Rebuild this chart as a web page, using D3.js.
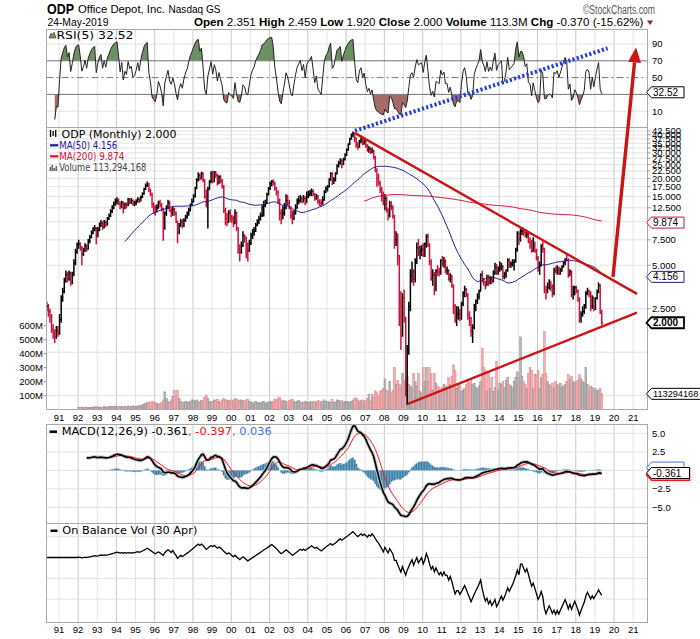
<!DOCTYPE html>
<html>
<head>
<meta charset="utf-8">
<script src="https://cdn.jsdelivr.net/npm/d3@7"></script>
<style>
  body { margin: 0; background: #fff; }
  svg text { font-family: "DejaVu Sans", Verdana, sans-serif; }
</style>
</head>
<body>
<svg width="700" height="639"></svg>
<script>
// --- Data: ODP monthly bars, May 1990 .. May 2019 ---
const firstMonth = new Date(1990, 4, 1);

const closes = [
  2.6, 2.4, 2.2, 1.8, 1.7, 1.6, 1.75, 1.7,                       // 1990 May-Dec
  2.1, 2.9, 3.3, 3.9, 4.3, 4.0, 4.4, 3.8, 4.3, 5.2, 6.2, 6.9,      // 1991
  7.0, 6.6, 6.0, 6.3, 6.8, 6.5, 7.3, 7.8, 8.4, 8.8, 9.0, 8.0,      // 1992
  8.8, 9.5, 9.8, 9.2, 9.9, 9.6, 10.5, 11.0, 11.8, 12.5, 13.2, 13.8, // 1993
  14.0, 13.5, 12.8, 13.6, 12.5, 13.2, 13.0, 14.2, 13.8, 14.0, 13.4, 13.5, // 1994
  13.8, 14.3, 14.0, 14.8, 15.6, 16.8, 17.8, 18.3, 16.5, 15.6, 13.2, 12.5, // 1995
  12.0, 12.5, 13.5, 13.0, 12.2, 9.0, 11.5, 12.5, 13.5, 12.0, 11.5, 12.2,  // 1996
  11.5, 10.0, 8.5, 9.5, 10.0, 9.4, 10.2, 10.8, 11.2, 12.0, 13.0, 13.8,    // 1997
  15.0, 17.0, 19.5, 21.0, 20.0, 21.5, 19.5, 15.0, 13.5, 17.0, 19.0, 21.5, // 1998
  19.0, 22.0, 21.0, 18.5, 20.5, 19.0, 17.5, 12.0, 10.5, 10.0, 11.5, 10.8, // 1999
  10.5, 9.8, 11.5, 9.0, 6.5, 6.2, 6.8, 8.0, 7.7, 6.5, 6.3, 7.1,           // 2000
  8.0, 8.5, 8.8, 9.5, 10.0, 10.4, 11.0, 12.5, 13.0, 13.5, 15.5, 17.0,     // 2001
  18.5, 19.0, 18.5, 17.0, 16.0, 14.0, 11.5, 10.5, 11.5, 12.5, 14.0, 13.5, // 2002
  12.5, 11.0, 10.5, 11.5, 12.5, 13.5, 14.0, 14.5, 13.8, 14.5, 13.5, 15.0, // 2003
  15.5, 15.8, 16.2, 15.5, 14.5, 15.0, 13.8, 13.5, 13.2, 14.2, 16.0, 17.0, // 2004
  17.5, 19.5, 21.5, 19.0, 19.5, 21.5, 24.5, 25.5, 26.5, 25.0, 27.0, 29.0, // 2005
  31.5, 34.5, 37.5, 40.0, 41.0, 38.0, 34.0, 33.0, 36.0, 37.0, 35.0, 36.0, // 2006
  33.5, 31.5, 32.0, 30.5, 31.0, 28.0, 23.0, 20.0, 18.5, 16.5, 15.0, 13.9, // 2007
  14.5, 12.0, 11.0, 12.8, 12.5, 10.9, 7.5, 7.5, 5.8, 2.6, 1.8, 2.98,      // 2008
  2.1, 0.75, 1.3, 2.6, 4.2, 4.5, 4.0, 5.3, 6.6, 6.2, 6.3, 6.45,           // 2009
  5.9, 7.0, 7.9, 6.9, 5.3, 4.0, 4.3, 3.4, 4.6, 4.5, 4.4, 5.4,             // 2010
  5.1, 5.3, 4.6, 4.6, 4.0, 4.2, 3.6, 2.6, 2.1, 2.3, 2.3, 2.15,            // 2011
  2.7, 3.2, 3.4, 3.1, 2.25, 2.15, 1.75, 1.85, 2.55, 2.85, 3.05, 3.28,     // 2012
  4.3, 3.9, 3.8, 3.6, 4.1, 3.8, 4.0, 3.9, 4.4, 4.9, 4.4, 4.7,             // 2013
  4.8, 4.9, 4.2, 4.3, 4.6, 5.4, 5.0, 5.1, 5.2, 5.3, 6.4, 8.3,             // 2014
  7.6, 8.6, 8.6, 8.4, 8.0, 8.2, 7.3, 7.2, 6.3, 6.9, 6.3, 5.6,             // 2015
  4.9, 5.0, 6.8, 6.5, 3.4, 3.3, 3.5, 3.6, 3.5, 3.2, 4.6, 4.5,             // 2016
  4.7, 4.4, 4.6, 4.9, 5.2, 5.5, 5.4, 4.3, 4.5, 3.1, 3.2, 3.5,             // 2017
  3.3, 2.9, 2.15, 2.3, 2.4, 2.55, 3.2, 3.3, 3.2, 2.6, 3.0, 2.58,          // 2018
  2.95, 3.3, 3.63, 2.37, 2.0                                              // 2019 Jan-May
];

const highs = [
  2.8, 2.7, 2.5, 2.3, 1.95, 1.8, 1.9, 1.9,
  2.3, 3.1, 3.5, 4.1, 4.6, 4.5, 4.6, 4.5, 4.5, 5.5, 6.5, 7.2,
  7.5, 7.2, 6.8, 6.6, 7.1, 7.0, 7.6, 8.1, 8.7, 9.2, 9.5, 9.2,
  9.2, 9.9, 10.3, 10.1, 10.3, 10.2, 10.8, 11.4, 12.2, 13.0, 13.8, 14.5,
  14.8, 14.5, 13.8, 14.0, 13.8, 13.6, 13.6, 14.6, 14.6, 14.6, 14.3, 14.0,
  14.3, 14.8, 14.7, 15.2, 16.0, 17.2, 18.4, 19.0, 18.6, 17.0, 15.9, 13.6,
  13.0, 13.2, 14.0, 14.2, 13.5, 12.5, 11.8, 13.0, 14.2, 14.0, 12.5, 12.8,
  12.5, 11.8, 10.2, 9.8, 10.5, 10.4, 10.6, 11.2, 11.8, 12.5, 13.4, 14.5,
  15.5, 17.5, 20.0, 22.0, 21.6, 22.2, 22.0, 19.8, 16.8, 17.5, 19.5, 22.4,
  22.6, 22.5, 22.4, 21.5, 21.0, 21.0, 19.8, 18.0, 12.5, 11.5, 12.0, 12.2,
  11.2, 11.0, 12.2, 11.8, 9.2, 7.0, 7.3, 8.6, 8.2, 7.9, 7.2, 7.5,
  8.4, 8.9, 9.2, 9.8, 10.4, 11.0, 11.6, 13.0, 14.0, 14.2, 15.9, 17.4,
  19.0, 19.5, 19.6, 19.0, 17.4, 16.5, 14.5, 12.2, 12.8, 13.5, 15.5, 15.3,
  14.2, 12.8, 12.0, 12.0, 13.2, 14.5, 15.0, 15.3, 15.0, 15.3, 15.0, 16.2,
  16.4, 16.6, 17.0, 16.8, 15.8, 15.6, 15.4, 14.3, 14.3, 15.0, 16.5, 17.6,
  18.0, 20.0, 22.0, 22.0, 20.4, 22.0, 25.0, 26.5, 27.5, 27.3, 27.8, 29.8,
  32.2, 35.0, 38.2, 40.8, 42.2, 41.5, 38.3, 35.5, 36.8, 38.5, 38.0, 37.0,
  37.0, 34.6, 33.5, 33.0, 32.5, 31.5, 28.5, 23.5, 21.5, 19.2, 17.5, 16.2,
  15.6, 15.0, 12.5, 14.0, 13.9, 13.0, 11.2, 8.6, 8.3, 5.9, 3.3, 3.2,
  3.4, 2.2, 1.4, 2.8, 4.7, 5.3, 4.7, 5.6, 7.2, 7.6, 6.8, 6.9,
  7.1, 7.2, 8.2, 8.3, 7.1, 5.5, 4.7, 4.5, 4.7, 5.0, 4.8, 5.5,
  5.8, 5.7, 5.5, 4.9, 4.7, 4.4, 4.3, 3.7, 2.7, 2.6, 2.6, 2.5,
  2.8, 3.3, 3.6, 3.5, 3.2, 2.4, 2.2, 1.95, 2.7, 2.9, 3.2, 3.4,
  4.4, 4.6, 4.1, 3.9, 4.3, 4.3, 4.2, 4.2, 4.6, 5.2, 5.1, 4.9,
  5.3, 5.2, 5.0, 4.5, 4.7, 5.6, 5.6, 5.3, 5.5, 5.5, 6.6, 8.6,
  8.6, 9.0, 9.2, 9.1, 8.9, 8.8, 8.6, 7.8, 7.5, 7.8, 7.3, 6.5,
  5.8, 5.3, 7.0, 7.3, 6.6, 3.6, 3.8, 4.0, 3.9, 3.7, 4.8, 4.9,
  5.0, 4.9, 4.8, 5.0, 5.3, 5.6, 5.9, 5.6, 4.7, 4.6, 3.6, 3.6,
  3.6, 3.4, 3.0, 2.4, 2.6, 2.7, 3.3, 3.5, 3.4, 3.3, 3.1, 3.0,
  3.0, 3.4, 3.8, 3.7, 2.459
];

const lows = [
  2.4, 2.2, 2.0, 1.7, 1.55, 1.45, 1.55, 1.6,
  1.65, 2.0, 2.8, 3.2, 3.8, 3.8, 3.9, 3.6, 3.7, 4.2, 5.0, 6.0,
  6.5, 6.3, 5.0, 5.8, 6.2, 6.2, 6.4, 7.1, 7.7, 8.2, 8.6, 7.0,
  7.8, 8.6, 9.2, 8.8, 9.0, 9.2, 9.4, 10.3, 10.8, 11.5, 12.2, 12.9,
  13.2, 13.0, 12.2, 12.4, 11.4, 12.2, 12.4, 12.8, 13.2, 13.3, 12.9, 12.8,
  13.0, 13.6, 13.5, 13.8, 14.6, 15.4, 16.6, 17.4, 16.0, 15.0, 12.5, 11.4,
  11.0, 11.6, 12.3, 12.6, 11.8, 7.4, 8.8, 11.0, 12.2, 11.7, 10.8, 11.0,
  11.0, 9.8, 7.1, 8.2, 9.2, 9.0, 9.2, 10.0, 10.5, 11.0, 11.8, 12.8,
  13.6, 14.7, 16.8, 19.0, 19.3, 19.6, 18.8, 14.5, 12.6, 9.0, 16.5, 18.5,
  18.5, 18.8, 20.2, 17.8, 18.2, 18.5, 17.0, 11.5, 9.5, 9.3, 9.8, 10.0,
  9.8, 9.2, 9.6, 8.6, 6.0, 5.3, 6.0, 6.7, 7.2, 5.6, 5.3, 6.2,
  6.9, 7.6, 8.0, 8.5, 9.3, 9.6, 10.2, 10.8, 10.9, 12.6, 13.3, 15.2,
  16.6, 17.6, 17.8, 16.4, 15.2, 13.3, 10.2, 9.6, 10.4, 11.0, 12.2, 12.9,
  12.2, 10.5, 9.6, 10.3, 11.2, 12.3, 13.2, 13.6, 13.4, 13.6, 13.0, 13.6,
  14.6, 15.0, 15.1, 15.0, 14.0, 14.2, 13.3, 12.8, 12.7, 13.1, 14.0, 15.8,
  16.2, 17.3, 19.2, 18.0, 18.3, 19.0, 21.3, 23.8, 24.8, 23.5, 24.6, 26.6,
  28.5, 31.0, 34.0, 37.0, 38.5, 35.5, 32.5, 31.5, 32.5, 35.0, 34.0, 34.2,
  32.5, 30.5, 30.0, 29.5, 29.8, 27.0, 22.0, 17.5, 17.8, 15.8, 13.8, 13.0,
  12.0, 11.6, 10.2, 10.7, 12.0, 10.5, 6.5, 6.8, 5.0, 1.9, 1.3, 1.6,
  2.0, 0.62, 0.54, 1.2, 2.4, 3.8, 3.6, 3.8, 5.1, 5.8, 5.5, 5.8,
  5.7, 5.7, 6.6, 6.7, 5.0, 3.9, 3.6, 3.1, 3.3, 4.2, 4.2, 4.3,
  4.9, 4.8, 4.4, 4.3, 3.9, 3.8, 3.5, 2.3, 2.0, 1.9, 2.1, 2.05,
  2.1, 2.6, 3.0, 3.0, 2.1, 1.9, 1.6, 1.45, 1.8, 2.4, 2.7, 2.9,
  3.3, 3.8, 3.6, 3.4, 3.6, 3.6, 3.7, 3.7, 3.8, 4.3, 4.3, 4.3,
  4.5, 4.6, 4.0, 4.0, 4.1, 4.5, 4.8, 4.8, 4.9, 4.6, 5.2, 6.2,
  6.9, 7.3, 8.1, 8.0, 7.8, 7.7, 7.1, 6.5, 6.1, 6.2, 6.1, 5.4,
  4.5, 4.3, 4.9, 6.1, 3.2, 2.9, 3.2, 3.4, 3.3, 3.0, 3.1, 4.4,
  4.3, 4.3, 4.3, 4.5, 4.8, 5.0, 5.3, 4.1, 4.2, 3.0, 2.9, 3.1,
  3.2, 2.8, 2.0, 2.0, 2.2, 2.3, 2.5, 3.1, 3.0, 2.4, 2.5, 2.4,
  2.45, 2.9, 3.2, 2.3, 1.92
];

// monthly volume in millions (no volume on the chart before 1992)
const volumesM = [
  null, null, null, null, null, null, null, null,
  null, null, null, null, null, null, null, null, null, null, null, null,
  18, 15, 20, 14, 16, 15, 18, 17, 16, 20, 18, 22,            // 1992
  18, 20, 16, 18, 22, 20, 18, 22, 24, 20, 22, 25,            // 1993
  24, 22, 26, 20, 24, 22, 20, 26, 22, 24, 28, 22,            // 1994
  24, 26, 30, 28, 35, 40, 45, 50, 55, 50, 58, 55,            // 1995
  50, 45, 40, 45, 50, 70, 128, 80, 60, 55, 70, 93,           // 1996
  136, 100, 140, 80, 60, 55, 50, 60, 55, 50, 60, 70,         // 1997
  65, 60, 70, 55, 60, 65, 70, 90, 105, 80, 60, 55,           // 1998
  60, 70, 65, 75, 60, 55, 70, 80, 70, 70, 65, 60,            // 1999
  70, 65, 80, 75, 70, 65, 70, 65, 60, 70, 75, 60,            // 2000
  55, 50, 45, 60, 50, 45, 50, 55, 60, 45, 50, 55,            // 2001
  60, 55, 60, 75, 70, 80, 90, 70, 60, 65, 60, 55,            // 2002
  65, 70, 75, 60, 55, 60, 65, 55, 50, 55, 60, 55,            // 2003
  55, 50, 60, 55, 60, 50, 65, 60, 55, 60, 70, 55,            // 2004
  60, 55, 55, 75, 50, 55, 70, 65, 60, 65, 55, 60,            // 2005
  60, 55, 55, 60, 65, 80, 85, 70, 60, 65, 70, 60,            // 2006
  65, 80, 110, 60, 110, 90, 135, 120, 100, 130, 140, 150,    // 2007
  220, 140, 130, 200, 120, 140, 300, 180, 210, 180, 170, 260, // 2008
  210, 200, 240, 180, 170, 150, 260, 200, 170, 260, 130, 120, // 2009
  300, 200, 300, 200, 300, 260, 140, 260, 190, 170, 160, 120, // 2010
  160, 180, 170, 160, 230, 180, 240, 320, 280, 150, 180, 170, // 2011
  130, 140, 150, 180, 200, 190, 210, 180, 190, 160, 150, 170, // 2012
  200, 440, 300, 280, 130, 260, 150, 230, 130, 160, 345, 140, // 2013
  190, 180, 200, 160, 210, 230, 180, 170, 160, 200, 230, 270, // 2014
  230, 520, 240, 200, 180, 150, 260, 300, 280, 150, 250, 250, // 2015
  280, 150, 230, 250, 560, 260, 200, 180, 170, 190, 150, 200, // 2016
  180, 170, 190, 160, 170, 180, 200, 250, 220, 240, 200, 190, // 2017
  200, 210, 250, 220, 200, 190, 300, 180, 150, 170, 160, 140, // 2018
  150, 130, 140, 150, 113.29                                  // 2019
];

// axis ticks
const priceTicks = [2.5, 5, 7.5, 10, 12.5, 15, 17.5, 20, 22.5, 25, 27.5, 30, 32.5, 35, 37.5, 40, 42.5];
const priceGridExtra = [0.625, 1.25];
const volTicksM = [100, 200, 300, 400, 500, 600];
const rsiGrid = [10, 30, 50, 70, 90];
const rsiLabels = [10, 50, 70, 90];        // 30 sits under the value tag
const macdGrid = [-5, -2.5, 0, 2.5, 5];
const macdLabels = [-5, -2.5, 2.5, 5];     // 0 sits under the value tag

// values printed on the chart (labels / tags)
const lastClose = 2.000, lastMA50 = 4.156, lastMA200 = 9.874, lastVolume = 113294168;
const lastRsi = 32.52;
const lastMacd = [-0.361, -0.397, 0.036];

// hand-drawn annotations (date, value)
const trendDown = [["2006-06-20", 41.1], ["2021-03-14", 3.17]];
const trendUp = [["2009-03-26", 0.549], ["2021-03-14", 2.35]];
const breakoutArrow = [["2019-12-12", 4.15], ["2021-02-24", 161]];
const rsiTrend = [["2006-06-20", -13.3], ["2019-09-01", 84.9]];

// --- Build bars & indicators ---
const bars = closes.map((c, i) => ({
    date: new Date(firstMonth.getFullYear(), firstMonth.getMonth() + i, 12),
    open: i ? closes[i - 1] : c,
    high: highs[i], low: lows[i], close: c,
    vol: volumesM[i] == null ? null : volumesM[i] * 1e6
}));
bars.forEach(d => d.up = d.close >= d.open);

function sma(arr, n) {
    return arr.map((v, i) => i < n - 1 ? null : d3.mean(arr.slice(i - n + 1, i + 1)));
}
function ema(arr, n) {
    const k = 2 / (n + 1), start = arr.findIndex(v => v != null);
    let prev = null;
    return arr.map((v, i) => {
        if (start < 0 || i < start + n - 1) return null;
        prev = prev === null ? d3.mean(arr.slice(i - n + 1, i + 1)) : v * k + prev * (1 - k);
        return prev;
    });
}
function rsiCalc(arr, n) {
    const out = arr.map(() => null);
    let ag = 0, al = 0;
    for (let i = 1; i < arr.length; i++) {
        const ch = arr[i] - arr[i - 1], g = Math.max(ch, 0), l = Math.max(-ch, 0);
        if (i <= n) { ag += g / n; al += l / n; }
        else { ag = (ag * (n - 1) + g) / n; al = (al * (n - 1) + l) / n; }
        if (i >= n) out[i] = al === 0 ? 100 : 100 - 100 / (1 + ag / al);
    }
    return out;
}

const ma50 = sma(closes, 50), ma200 = sma(closes, 200);
const rsi = rsiCalc(closes, 5);
const ema12 = ema(closes, 12), ema26 = ema(closes, 26);
const macd = closes.map((c, i) => ema26[i] == null ? null : ema12[i] - ema26[i]);
const signal = ema(macd, 9);
const hist = macd.map((m, i) => signal[i] == null ? null : m - signal[i]);
let obvAcc = 0;
const obv = bars.map((d, i) => {
    if (i > 0 && d.vol != null) {
        if (d.close > bars[i - 1].close) obvAcc += d.vol;
        else if (d.close < bars[i - 1].close) obvAcc -= d.vol;
    }
    return obvAcc;
});

// --- Layout & scales ---
const svg = d3.select("svg");
const L = 46.5, R = 647.5;
const P = {
    rsi: { top: 29.5, bottom: 127.5 },
    price: { top: 127.5, bottom: 409.5 },
    macd: { top: 424.5, bottom: 523.5 },
    obv: { top: 523.5, bottom: 622.5 }
};
const AX = "'Liberation Sans', Arial, sans-serif";
const RED = "#d0103a", NAVY = "#1c1c96";

const x = d3.scaleTime().domain([new Date(1991, 0, 1), new Date(2021, 0, 1)]).range([59, 633.2]);
const yPrice = d3.scaleLog().domain([0.5, 44.6]).range([409.7, 128]);
const yVol = d3.scaleLinear().domain([0, 100e6]).range([409.7, 395.7]);
const yRsi = d3.scaleLinear().domain([0, 100]).range([119.6, 35.6]);
const yMacd = d3.scaleLinear().domain([-7.12, 6.26]).range([523, 424]);
const yObv = d3.scaleLinear().domain(d3.extent(obv)).range([615, 531.7]);
const years = d3.timeYear.range(new Date(1991, 0, 1), new Date(2021, 0, 2));
const pd = s => d3.timeParse("%Y-%m-%d")(s);

svg.append("rect").attr("width", 700).attr("height", 639).attr("fill", "#fff");
const defs = svg.append("defs");

function panel(name, hTicks) {
    const p = P[name];
    defs.append("clipPath").attr("id", "clip-" + name)
        .append("rect").attr("x", L).attr("y", p.top).attr("width", R - L).attr("height", p.bottom - p.top);
    const g = svg.append("g");
    g.selectAll("line.v").data(years).join("line")
        .attr("x1", d => x(d)).attr("x2", d => x(d))
        .attr("y1", p.top).attr("y2", p.bottom)
        .attr("stroke", d => d.getFullYear() % 2 === 0 ? "#c9c9c9" : "#e4e4e4").attr("stroke-width", 1);
    g.selectAll("line.h").data(hTicks).join("line")
        .attr("x1", L).attr("x2", R).attr("y1", d => d).attr("y2", d => d)
        .attr("stroke", "#e2e2e2").attr("stroke-width", 1);
    return g.append("g").attr("clip-path", `url(#clip-${name})`);
}
function frame(name) {
    const p = P[name];
    svg.append("rect").attr("x", L).attr("y", p.top).attr("width", R - L).attr("height", p.bottom - p.top)
        .attr("fill", "none").attr("stroke", "#a9a9a9").attr("stroke-width", 1);
}

// --- RSI panel ---
const gR = panel("rsi", [10, 90].map(yRsi));
const rsiPts = bars.map((d, i) => ({ date: d.date, v: rsi[i] })).filter(d => d.v != null);
defs.append("clipPath").attr("id", "rsi-hi").append("rect")
    .attr("x", L).attr("y", P.rsi.top).attr("width", R - L).attr("height", yRsi(70) - P.rsi.top);
defs.append("clipPath").attr("id", "rsi-lo").append("rect")
    .attr("x", L).attr("y", yRsi(30)).attr("width", R - L).attr("height", P.rsi.bottom - yRsi(30));
gR.append("path").datum(rsiPts).attr("clip-path", "url(#rsi-hi)")
    .attr("d", d3.area().x(d => x(d.date)).y0(yRsi(70)).y1(d => yRsi(d.v)))
    .attr("fill", "#6d8f63");
gR.append("path").datum(rsiPts).attr("clip-path", "url(#rsi-lo)")
    .attr("d", d3.area().x(d => x(d.date)).y0(yRsi(30)).y1(d => yRsi(d.v)))
    .attr("fill", "#a66a68");
[70, 30].forEach(v => gR.append("line").attr("x1", L).attr("x2", R).attr("y1", yRsi(v)).attr("y2", yRsi(v))
    .attr("stroke", "#777").attr("stroke-width", 1));
gR.append("line").attr("x1", L).attr("x2", R).attr("y1", yRsi(50)).attr("y2", yRsi(50))
    .attr("stroke", "#777").attr("stroke-dasharray", "7,3,2,3");
gR.append("path").datum(rsiPts)
    .attr("d", d3.line().x(d => x(d.date)).y(d => yRsi(d.v)))
    .attr("fill", "none").attr("stroke", "#222").attr("stroke-width", 1);
frame("rsi");

// --- Price panel ---
const gP = panel("price", priceTicks.concat(priceGridExtra).map(yPrice));
const volBars = bars.filter(d => d.vol != null);
gP.selectAll("rect.vol").data(volBars).join("rect")
    .attr("x", d => x(d.date) - 0.9).attr("width", 1.8)
    .attr("y", d => yVol(d.vol)).attr("height", d => yVol(0) - yVol(d.vol))
    .attr("fill", d => d.up ? "#b8b8b8" : "#f3b1b3")
    .attr("stroke", d => d.up ? "#8e8e8e" : "#e07f86").attr("stroke-width", 0.5);
const gB = gP.append("g");
gB.selectAll("line.hl").data(bars).join("line")
    .attr("x1", d => x(d.date)).attr("x2", d => x(d.date))
    .attr("y1", d => yPrice(d.high)).attr("y2", d => yPrice(d.low))
    .attr("stroke", d => d.up ? "#000" : RED).attr("stroke-width", 1.5);
gB.selectAll("line.op").data(bars).join("line")
    .attr("x1", d => x(d.date) - 1.4).attr("x2", d => x(d.date))
    .attr("y1", d => yPrice(d.open)).attr("y2", d => yPrice(d.open))
    .attr("stroke", d => d.up ? "#000" : RED).attr("stroke-width", 1);
gB.selectAll("line.cl").data(bars).join("line")
    .attr("x1", d => x(d.date)).attr("x2", d => x(d.date) + 1.4)
    .attr("y1", d => yPrice(d.close)).attr("y2", d => yPrice(d.close))
    .attr("stroke", d => d.up ? "#000" : RED).attr("stroke-width", 1);
const maLine = arr => d3.line().defined((d, i) => arr[i] != null).x(d => x(d.date)).y((d, i) => yPrice(arr[i] || 1));
gP.append("path").datum(bars).attr("d", maLine(ma200)).attr("fill", "none").attr("stroke", RED).attr("stroke-width", 1);
gP.append("path").datum(bars).attr("d", maLine(ma50)).attr("fill", "none").attr("stroke", NAVY).attr("stroke-width", 1);
frame("price");

// price legend
const leg = svg.append("g").attr("font-size", 10);
leg.append("g").selectAll("line").data([0, 1, 2]).join("line")
    .attr("x1", d => 50.5 + d * 2.6).attr("x2", d => 50.5 + d * 2.6)
    .attr("y1", d => 130 + (d % 2)).attr("y2", d => 137 - (d % 2))
    .attr("stroke", "#000").attr("stroke-width", 1.3);
leg.append("text").attr("x", 61.5).attr("y", 137.6).attr("textLength", 115).attr("lengthAdjust", "spacingAndGlyphs")
    .text("ODP (Monthly) 2.000");
leg.append("line").attr("x1", 50).attr("x2", 58.3).attr("y1", 145.3).attr("y2", 145.3).attr("stroke", NAVY).attr("stroke-width", 2.2);
leg.append("text").attr("x", 59.3).attr("y", 148.9).attr("fill", NAVY).attr("textLength", 58).attr("lengthAdjust", "spacingAndGlyphs")
    .text("MA(50) 4.156");
leg.append("line").attr("x1", 50).attr("x2", 58.3).attr("y1", 156.3).attr("y2", 156.3).attr("stroke", RED).attr("stroke-width", 2.2);
leg.append("text").attr("x", 59.3).attr("y", 159.9).attr("fill", RED).attr("textLength", 65).attr("lengthAdjust", "spacingAndGlyphs")
    .text("MA(200) 9.874");
leg.append("g").selectAll("rect").data([4, 6, 3, 5]).join("rect")
    .attr("x", (d, i) => 49.5 + i * 2).attr("y", d => 171 - d).attr("width", 1.6).attr("height", d => d)
    .attr("fill", "#666");
leg.append("text").attr("x", 59.3).attr("y", 170.6).attr("fill", "#444").attr("textLength", 87).attr("lengthAdjust", "spacingAndGlyphs")
    .text("Volume 113,294,168");

// --- MACD panel ---
const gM = panel("macd", macdGrid.map(yMacd));
const histPts = bars.map((d, i) => ({ date: d.date, v: hist[i] })).filter(d => d.v != null);
gM.selectAll("rect.h").data(histPts).join("rect")
    .attr("x", d => x(d.date) - 0.95).attr("width", 1.9)
    .attr("y", d => Math.min(yMacd(0), yMacd(d.v))).attr("height", d => Math.abs(yMacd(d.v) - yMacd(0)))
    .attr("fill", "#327aa3").attr("stroke", "#a7c6da").attr("stroke-width", 0.35);
const macdPts = bars.map((d, i) => ({ date: d.date, m: macd[i], s: signal[i] }));
const lm = d3.line().defined(d => d.m != null).x(d => x(d.date)).y(d => yMacd(d.m));
const ls = d3.line().defined(d => d.s != null).x(d => x(d.date)).y(d => yMacd(d.s));
gM.append("path").datum(macdPts).attr("d", lm).attr("fill", "none").attr("stroke", "#c4c4c4").attr("stroke-width", 3.6);
gM.append("path").datum(macdPts).attr("d", ls).attr("fill", "none").attr("stroke", "#ff1010").attr("stroke-width", 1);
gM.append("path").datum(macdPts).attr("d", lm).attr("fill", "none").attr("stroke", "#000").attr("stroke-width", 1.6);
frame("macd");

const mLab = svg.append("text").attr("x", 61.7).attr("y", 435.3).attr("font-size", 10)
    .attr("textLength", 210).attr("lengthAdjust", "spacingAndGlyphs");
mLab.append("tspan").text("MACD(12,26,9) " + lastMacd[0].toFixed(3));
mLab.append("tspan").attr("fill", "#ff1010").text(", " + lastMacd[1].toFixed(3));
mLab.append("tspan").attr("fill", "#4a74d9").text(", " + lastMacd[2].toFixed(3));
svg.append("line").attr("x1", 49.5).attr("x2", 57).attr("y1", 431.7).attr("y2", 431.7).attr("stroke", "#000").attr("stroke-width", 2.5);

// --- OBV panel ---
const gO = panel("obv", yObv.ticks(5).map(yObv));
gO.append("path").datum(bars)
    .attr("d", d3.line().x(d => x(d.date)).y((d, i) => yObv(obv[i])))
    .attr("fill", "none").attr("stroke", "#000").attr("stroke-width", 1.3);
frame("obv");
svg.append("line").attr("x1", 50.5).attr("x2", 57.5).attr("y1", 530.8).attr("y2", 530.8).attr("stroke", "#000").attr("stroke-width", 2.5);
svg.append("text").attr("x", 62.3).attr("y", 534.4).attr("font-size", 10)
    .attr("textLength", 135).attr("lengthAdjust", "spacingAndGlyphs").text("On Balance Vol (30 Apr)");

// --- Axes text ---
const axG = svg.append("g").attr("font-family", AX).attr("font-size", 9.5).attr("fill", "#000");
[420.6, 632.6].forEach(yy => {
    axG.append("g").selectAll("text").data(years).join("text")
        .attr("x", d => x(d)).attr("y", yy).attr("text-anchor", "middle")
        .style("font-family", AX).text(d3.timeFormat("%y"));
});
// right price axis
axG.append("g").selectAll("line").data(priceTicks).join("line")
    .attr("x1", R).attr("x2", R + 3).attr("y1", d => yPrice(d)).attr("y2", d => yPrice(d)).attr("stroke", "#999");
axG.append("g").selectAll("text").data(priceTicks).join("text")
    .attr("x", R + 4.5).attr("y", d => yPrice(d)).attr("dy", "0.36em").style("font-family", AX).text(d3.format(".3f"));
// left volume axis
axG.append("g").selectAll("text").data(volTicksM).join("text")
    .attr("x", 43).attr("y", d => yVol(d * 1e6)).attr("dy", "0.36em").attr("text-anchor", "end")
    .style("font-family", AX).text(d => d + "M");
axG.append("g").selectAll("line").data(volTicksM).join("line")
    .attr("x1", L - 3).attr("x2", L).attr("y1", d => yVol(d * 1e6)).attr("y2", d => yVol(d * 1e6)).attr("stroke", "#999");
// RSI axis
axG.append("g").selectAll("text").data(rsiLabels).join("text")
    .attr("x", R + 4.5).attr("y", d => yRsi(d)).attr("dy", "0.36em").style("font-family", AX).text(d => d);
// MACD axis
axG.append("g").selectAll("text").data(macdLabels).join("text")
    .attr("x", R + 4.5).attr("y", d => yMacd(d)).attr("dy", "0.36em").style("font-family", AX).text(d3.format(".1f"));

// --- value tags on the right ---
function tag(y, text, stroke, opt = {}) {
    const w = opt.w || text.length * 5.5 + 5;
    const g = svg.append("g");
    g.append("path")
        .attr("d", `M${R - 1},${y} L${R + 4},${y - 5.5} L${R + 4 + w},${y - 5.5} L${R + 4 + w},${y + 5.5} L${R + 4},${y + 5.5} Z`)
        .attr("fill", "#fff").attr("stroke", stroke).attr("stroke-width", opt.sw || 1);
    if (opt.hideText) return;
    g.append("text").attr("x", R + 5.5).attr("y", y).attr("dy", "0.36em")
        .style("font-family", AX).attr("font-size", opt.fs || 10).attr("font-weight", opt.bold ? "bold" : null)
        .attr("fill", opt.color || "#000").text(text);
}
tag(yPrice(lastMA200), lastMA200.toFixed(3), RED);
tag(yPrice(lastMA50), lastMA50.toFixed(3), NAVY);
tag(yPrice(lastClose), lastClose.toFixed(3), "#000", { sw: 1.8, bold: true });
tag(yVol(lastVolume), String(lastVolume), "#000", { w: 60, fs: 9.2 });
tag(yRsi(lastRsi), lastRsi.toFixed(2), "#000");
// the MACD signal / histogram tags sit behind the MACD tag, only their edges show
tag(yMacd(lastMacd[2]) - 2.5, lastMacd[2].toFixed(3), "#4a74d9", { hideText: true });
tag(yMacd(lastMacd[1]) + 1.5, lastMacd[1].toFixed(3), "#ff1010", { sw: 1.6, hideText: true });
tag(yMacd(lastMacd[0]), lastMacd[0].toFixed(3), "#000");

// --- panel titles ---
svg.append("path").attr("d", "M49,38 L51,33 L52.5,35 L54,32 L56,38 Z").attr("fill", "#6d8f63").attr("stroke", "#333").attr("stroke-width", 0.6);
svg.append("text").attr("x", 56.5).attr("y", 39).attr("font-size", 10)
    .attr("textLength", 77).attr("lengthAdjust", "spacingAndGlyphs").text("RSI(5) " + lastRsi.toFixed(2));

// --- header ---
const NARROW = "'Liberation Sans Narrow', 'Arial Narrow', 'Liberation Sans', Arial, sans-serif";
svg.append("text").attr("x", 47).attr("y", 13.8).style("font-family", NARROW).attr("font-size", 14).attr("font-weight", "bold")
    .attr("textLength", 27).attr("lengthAdjust", "spacingAndGlyphs").text("ODP");
svg.append("text").attr("x", 78).attr("y", 13).style("font-family", NARROW).attr("font-size", 11)
    .attr("textLength", 87).attr("lengthAdjust", "spacingAndGlyphs").text("Office Depot, Inc.");
svg.append("text").attr("x", 168.5).attr("y", 13).style("font-family", NARROW).attr("font-size", 11)
    .attr("textLength", 52).attr("lengthAdjust", "spacingAndGlyphs").text("Nasdaq GS");
svg.append("text").attr("x", 583).attr("y", 13.5).style("font-family", NARROW).attr("font-size", 12.5).attr("fill", "#555")
    .attr("textLength", 72).attr("lengthAdjust", "spacingAndGlyphs").text("©StockCharts.com");
svg.append("text").attr("x", 47.4).attr("y", 26).style("font-family", NARROW).attr("font-size", 10.5)
    .attr("textLength", 61).attr("lengthAdjust", "spacingAndGlyphs").text("24-May-2019");
const quote = [["Open", "2.351"], ["High", "2.459"], ["Low", "1.920"], ["Close", "2.000"], ["Volume", "113.3M"], ["Chg", "-0.370 (-15.62%)"]];
const qt = svg.append("text").attr("x", 194).attr("y", 26).style("font-family", NARROW).attr("font-size", 10.5)
    .attr("textLength", 449.5).attr("lengthAdjust", "spacingAndGlyphs");
quote.forEach(([k, v], i) => {
    qt.append("tspan").attr("font-weight", "bold").text((i ? "  " : "") + k + " ");
    qt.append("tspan").text(v);
});
svg.append("path").attr("d", "M647,20.5 L653,20.5 L650,25 Z").attr("fill", "#8a2231");

// --- hand-drawn annotations ---
const ann = svg.append("g").attr("fill", "none").attr("stroke-linecap", "butt");
const toPx = (pts, yS) => pts.map(([dt, v]) => [x(pd(dt)), yS(v)]);
ann.append("path").attr("d", d3.line()(toPx(rsiTrend, yRsi)))
    .attr("stroke", "#1f3fe0").attr("stroke-width", 4).attr("stroke-dasharray", "2.2,2.2");
ann.append("path").attr("d", d3.line()(toPx(trendDown, yPrice))).attr("stroke", "#cc1414").attr("stroke-width", 2.4);
ann.append("path").attr("d", d3.line()(toPx(trendUp, yPrice))).attr("stroke", "#cc1414").attr("stroke-width", 2.4);
const ar = toPx(breakoutArrow, yPrice);
const dx = ar[1][0] - ar[0][0], dy = ar[1][1] - ar[0][1], len = Math.hypot(dx, dy);
const ux = dx / len, uy = dy / len, hl = 15, hw = 6.5;
const bx = ar[1][0] - ux * hl, by = ar[1][1] - uy * hl;
ann.append("path").attr("d", d3.line()([ar[0], [bx, by]])).attr("stroke", "#cc1414").attr("stroke-width", 3.4);
ann.append("path")
    .attr("d", `M${ar[1][0]},${ar[1][1]} L${bx - uy * hw},${by + ux * hw} L${bx + uy * hw},${by - ux * hw} Z`)
    .attr("fill", "#cc1414").attr("stroke", "none");
</script>
</body>
</html>
